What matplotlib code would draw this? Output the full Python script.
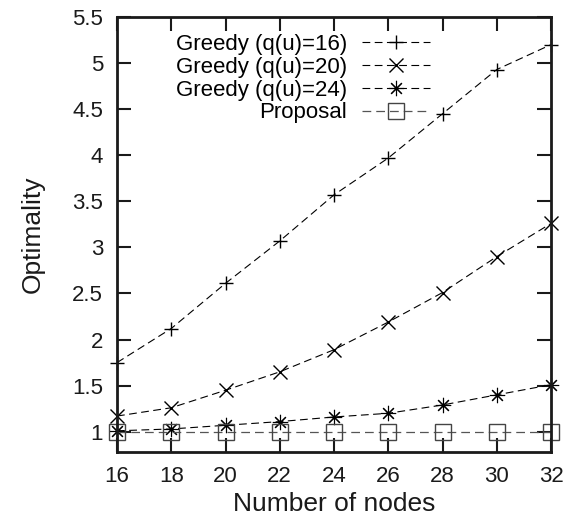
import matplotlib
matplotlib.use("Agg")
import matplotlib.pyplot as plt
from matplotlib.ticker import MultipleLocator

plt.rcParams['font.family'] = ['Liberation Sans', 'DejaVu Sans']

nodes = [16, 18, 20, 22, 24, 26, 28, 30, 32]
greedy_q16 = [1.75, 2.12, 2.61, 3.07, 3.57, 3.97, 4.45, 4.93, 5.20]
greedy_q20 = [1.17, 1.26, 1.45, 1.65, 1.89, 2.19, 2.51, 2.90, 3.26]
greedy_q24 = [1.01, 1.03, 1.07, 1.11, 1.16, 1.20, 1.29, 1.40, 1.51]
proposal = [1.0, 1.0, 1.0, 1.0, 1.0, 1.0, 1.0, 1.0, 1.0]

labels = ["Greedy (q(u)=16)", "Greedy (q(u)=20)", "Greedy (q(u)=24)", "Proposal"]
yticks = [1, 1.5, 2, 2.5, 3, 3.5, 4, 4.5, 5, 5.5]
ytick_labels = ["1", "1.5", "2", "2.5", "3", "3.5", "4", "4.5", "5", "5.5"]

W, H = 567, 517
fig = plt.figure(figsize=(W / 100, H / 100), dpi=100)
ax = fig.add_axes([117 / W, 1 - 452 / H, (551 - 117) / W, (452 - 17) / H])

dash = (7, 4)
ax.plot(nodes, greedy_q16, color="k", lw=0.8, dashes=dash, marker="+",
        ms=10, mew=1.0, label=labels[0], clip_on=False)
ax.plot(nodes, greedy_q20, color="k", lw=0.8, dashes=dash, marker="x",
        ms=10, mew=1.0, label=labels[1], clip_on=False)
ax.plot(nodes, greedy_q24, color="k", lw=0.8, dashes=dash, marker=(8, 2, 0),
        ms=11, mew=0.8, label=labels[2], clip_on=False)
ax.plot(nodes, proposal, color="#555555", lw=0.9, dashes=(7, 4), marker="s",
        ms=11, mew=1.0, mfc="none", mec="#444444", label=labels[3], clip_on=False)

ax.set_xlim(16, 32)
ax.set_ylim(0.78, 5.5)
ax.xaxis.set_major_locator(MultipleLocator(2))
ax.set_yticks(yticks)
ax.set_yticklabels(ytick_labels)

ax.tick_params(axis="both", which="both", direction="in", length=10, width=1.5,
               top=True, right=True, labelsize=16, colors="#1a1a1a")
ax.tick_params(axis="x", pad=10)
ax.tick_params(axis="y", pad=10)
for s in ax.spines.values():
    s.set_linewidth(2.0)
    s.set_color("#1a1a1a")

ax.set_xlabel("Number of nodes", fontsize=19, labelpad=4, color="#1a1a1a")
ax.set_ylabel("Optimality", fontsize=19, labelpad=20, color="#1a1a1a")

ax.legend(loc="upper right", bbox_to_anchor=(430 / W, 1 - 34 / H),
          bbox_transform=fig.transFigure, frameon=False, fontsize=16,
          markerfirst=False, handlelength=3.05, handletextpad=0.68,
          labelspacing=0.08, borderpad=0, borderaxespad=0, numpoints=1)

fig.savefig("out.png", dpi=100)
